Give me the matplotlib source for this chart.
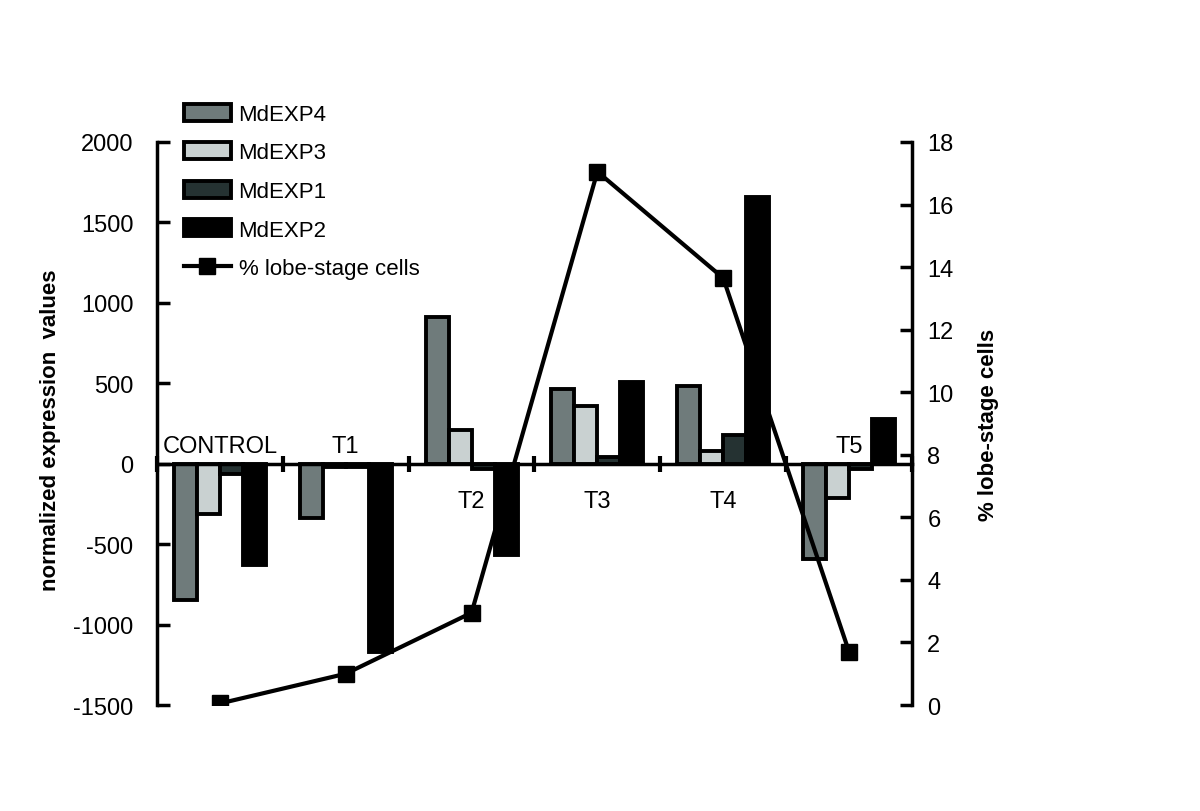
import numpy as np
import matplotlib
matplotlib.use("Agg")
import matplotlib.pyplot as plt
from matplotlib.lines import Line2D
from matplotlib.patches import Patch

plt.rcParams['font.family'] = ['Liberation Sans', 'DejaVu Sans']
plt.rcParams['axes.unicode_minus'] = False

categories = ["CONTROL", "T1", "T2", "T3", "T4", "T5"]
# label sits above (+1) or below (-1) the zero line
label_side = [1, 1, -1, -1, -1, 1]

series_names = ["MdEXP4", "MdEXP3", "MdEXP1", "MdEXP2"]
mdexp4 = [-850, -340, 910, 465, 485, -595]
mdexp3 = [-310, -20, 210, 360, 80, -215]
mdexp1 = [-65, -20, -35, 40, 180, -30]
mdexp2 = [-630, -1170, -570, 505, 1660, 280]
lobe_pct = [0.05, 1.0, 2.95, 17.05, 13.65, 1.7]

colors = ["#6f7b7b", "#c9d1d1", "#253232", "#000000"]

fig = plt.figure(figsize=(12, 8.12), dpi=100)
ax = fig.add_axes([0.1308, 0.1305, 0.6292, 0.6934])

x = np.arange(len(categories)) + 0.5
w = 0.183
for i, (name, vals) in enumerate(zip(series_names, [mdexp4, mdexp3, mdexp1, mdexp2])):
    ax.bar(x + (i - 1.5) * w, vals, width=w, color=colors[i],
           edgecolor="black", linewidth=2.8, zorder=2)

ax.set_xlim(0, 6)
ax.set_ylim(-1500, 2000)
ax.set_yticks(np.arange(-1500, 2001, 500))
ax.spines['top'].set_visible(False)
ax.spines['right'].set_visible(False)
ax.spines['bottom'].set_position(('data', 0))
for s in ['left', 'bottom']:
    ax.spines[s].set_linewidth(2.5)
    ax.spines[s].set_zorder(3)
ax.set_xticks(np.arange(0, 7))
ax.set_xticklabels([])
ax.tick_params(axis='x', direction='inout', length=12, width=3)
ax.tick_params(axis='y', direction='in', length=9, width=2.5, labelsize=17, pad=17)
ax.set_ylabel("normalized expression  values", fontsize=16, fontweight='bold')
ax.yaxis.set_label_coords(-0.127, 0.49)

for xi, lab, side in zip(x, categories, label_side):
    ax.text(xi, 108 if side > 0 else -230, lab, ha='center', va='center', fontsize=17)

ax2 = ax.twinx()
ax2.plot(x, lobe_pct, color="black", linewidth=3, marker='s', markersize=12)
ax2.set_ylim(0, 18)
ax2.set_yticks(np.arange(0, 19, 2))
for s in ['top', 'left', 'bottom']:
    ax2.spines[s].set_visible(False)
ax2.spines['right'].set_linewidth(2.5)
ax2.tick_params(axis='y', direction='in', length=9, width=2.5, labelsize=17, pad=11)
ax2.set_ylabel("% lobe-stage cells", fontsize=16, fontweight='bold')
ax2.yaxis.set_label_coords(1.087, 0.5)

handles = [Patch(facecolor=c, edgecolor="black", linewidth=2.8, label=n)
           for c, n in zip(colors, series_names)]
handles.append(Line2D([0], [0], color="black", linewidth=3, marker='s',
                      markersize=12, label="% lobe-stage cells"))
fig.legend(handles=handles, loc='upper left', bbox_to_anchor=(0.146, 0.882),
           frameon=False, fontsize=16, handlelength=2.1, handleheight=0.8,
           labelspacing=0.78, handletextpad=0.35, borderaxespad=0)

fig.savefig("out.png", dpi=100)
